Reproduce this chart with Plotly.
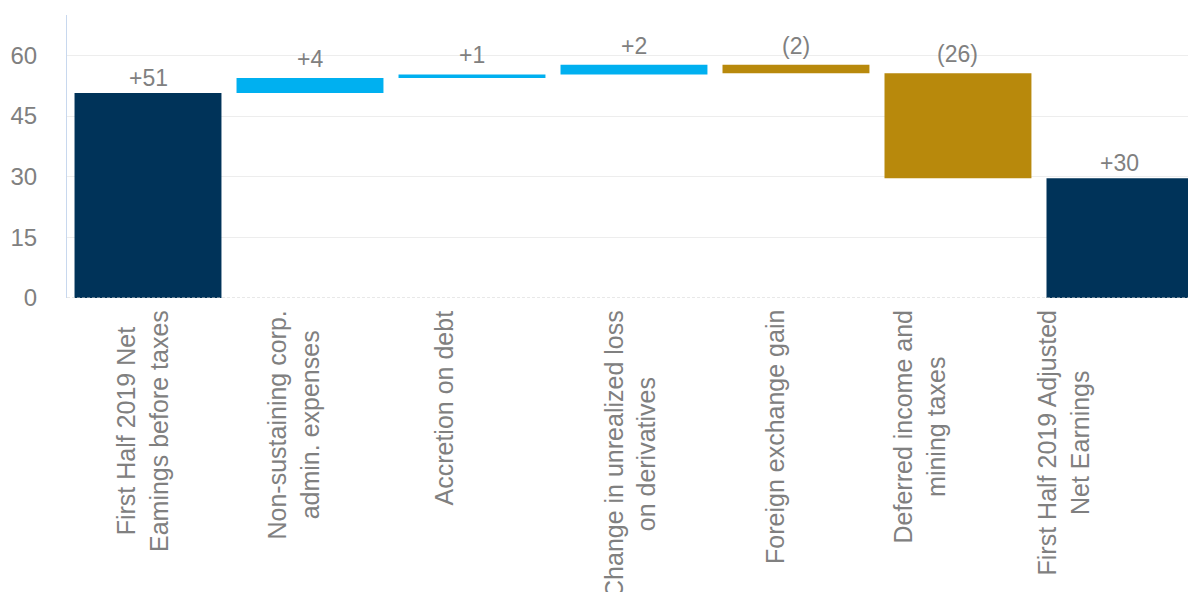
import numpy as np
import plotly.graph_objects as go

# ---- data ----
categories = [
    "First Half 2019 Net<br>Eamings before taxes",
    "Non-sustaining corp.<br>admin. expenses",
    "Accretion on debt",
    "Change in unrealized loss<br>on derivatives",
    "Foreign exchange gain",
    "Deferred income and<br>mining taxes",
    "First Half 2019 Adjusted<br>Net Earnings",
]
measures = ["absolute", "relative", "relative", "relative", "relative", "relative", "total"]
values = [50.7, 3.7, 0.9, 2.4, -2.1, -26.0, 0]
value_labels = ["+51", "+4", "+1", "+2", "(2)", "(26)", "+30"]
y_ticks = [0, 15, 30, 45, 60]

# ---- styles ----
NAVY = "#003359"
BLUE = "#00B0F0"
GOLD = "#B8890C"
GREY = "#808080"
FONT = "Liberation Sans, Arial, sans-serif"
label_xshift = [-6, -16, -28, -4, -21, -38, -56]

fig = go.Figure(go.Waterfall(
    x=categories,
    y=values,
    measure=measures,
    width=0.907,
    increasing=dict(marker=dict(color=BLUE)),
    decreasing=dict(marker=dict(color=GOLD)),
    totals=dict(marker=dict(color=NAVY)),
    connector=dict(visible=False),
    hoverinfo="skip",
))

# bar tops for value labels
deltas = np.array(values[:-1], dtype=float)
cum = np.cumsum(deltas)
starts = np.concatenate([[0.0], cum[:-1]])
tops = list(np.maximum(starts, cum)) + [cum[-1]]

annotations = []
for i, (cat, top, lab) in enumerate(zip(categories, tops, value_labels)):
    annotations.append(dict(
        x=cat, y=top, xref="x", yref="y", text=lab, showarrow=False,
        yanchor="bottom", xanchor="center",
        yshift=0 if measures[i] != "relative" else 4,
        font=dict(family=FONT, size=23, color=GREY),
    ))
    annotations.append(dict(
        x=cat, y=0, xref="x", yref="paper", text=cat, showarrow=False,
        textangle=-90, align="center", yanchor="top", xanchor="center",
        yshift=-10, xshift=label_xshift[i],
        font=dict(family=FONT, size=25, color=GREY),
    ))

fig.add_shape(type="line", xref="paper", yref="y", x0=0, x1=1, y0=0, y1=0,
              line=dict(color="#d0d0d0", width=1, dash="3px,2px"), layer="above")

fig.update_layout(
    width=1188, height=592,
    margin=dict(l=67, r=0, t=15, b=294),
    paper_bgcolor="white", plot_bgcolor="white",
    showlegend=False,
    annotations=annotations,
    xaxis=dict(range=[-0.5, 6.42], showticklabels=False, showgrid=False,
               zeroline=False, showline=False, ticks=""),
    yaxis=dict(range=[0, 70], tickvals=y_ticks, showgrid=True, gridcolor="#ededed",
               gridwidth=1, zeroline=False, showline=True, linecolor="#c8d8ee",
               linewidth=1, ticks="", ticklabelstandoff=24,
               tickfont=dict(family=FONT, size=24, color=GREY)),
)

fig.write_html("out.html")
